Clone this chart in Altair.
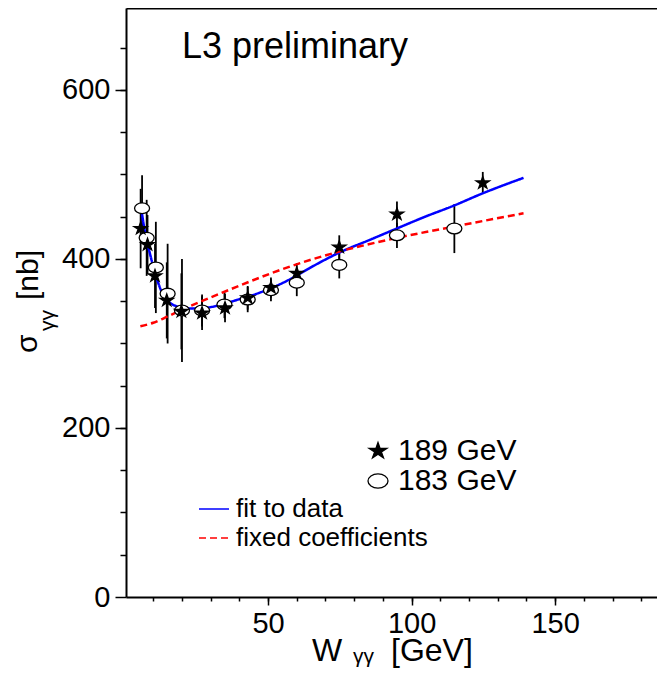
import altair as alt
import pandas as pd

FONT = "Liberation Sans"

# ---- data ----
# 189 GeV (filled stars)
W_189 = [5.6, 8.0, 10.6, 14.7, 19.8, 27.0, 35.0, 42.9, 51.0, 60.0, 74.8, 94.9, 124.8]
S_189 = [436, 417, 380, 351, 338, 336, 342, 354, 366, 383, 414, 453, 490]
E_189 = [47, 35, 38, 45, 45, 20, 17, 14, 12, 12, 14, 15, 13]
# 183 GeV (open circles)
W_183 = [6.1, 7.7, 10.9, 15.0, 20.0, 27.0, 34.8, 42.9, 51.0, 60.0, 74.8, 94.9, 114.9]
S_183 = [460, 425, 390, 359, 339, 339, 346, 352, 363, 372, 393, 428, 436]
E_183 = [39, 45, 54, 59, 61, 19, 16, 15, 13, 16, 16, 15, 29]

# fit to data (blue solid)
FIT_W = [6.0, 7.1, 8.3, 10.0, 11.8, 13.5, 15.9, 18.7, 22.8, 27.5, 33.3, 39.1, 44.9,
         50.7, 56.5, 62.3, 68.1, 75.1, 85.0, 94.8, 104.7, 114.6, 125.0, 139.0]
FIT_S = [455, 432, 414, 391, 371, 357, 348, 343.5, 341.5, 342, 345.5, 351.5, 357.5,
         365, 374, 385, 396, 408, 422, 436, 450, 463, 478, 496]
# fixed coefficients (red dashed)
FIX_W = [5.5, 10.0, 15.0, 20.0, 27.5, 39.0, 51.0, 62.0, 75.0, 95.0, 115.0, 139.0]
FIX_S = [320.5, 324.5, 332, 340, 351, 367, 383, 396, 409, 425, 438.5, 454]

SERIES = ["189 GeV", "183 GeV"]
CURVES = ["fit to data", "fixed coefficients"]

X_MAJOR = [50, 100, 150]
X_MINOR = list(range(10, 190, 10))
Y_MAJOR = [0, 200, 400, 600]
Y_MINOR = list(range(50, 700, 50))

# ---- tables ----
pts = pd.concat([
    pd.DataFrame({"W": W_183, "sigma": S_183, "err": E_183, "beam": SERIES[1]}),
    pd.DataFrame({"W": W_189, "sigma": S_189, "err": E_189, "beam": SERIES[0]}),
], ignore_index=True)
pts["lo"] = pts["sigma"] - pts["err"]
pts["hi"] = pts["sigma"] + pts["err"]

curves = pd.concat([
    pd.DataFrame({"W": FIT_W, "sigma": FIT_S, "curve": CURVES[0]}),
    pd.DataFrame({"W": FIX_W, "sigma": FIX_S, "curve": CURVES[1]}),
], ignore_index=True)

# ---- scales ----
xs = alt.Scale(domain=[0.5, 185.5], nice=False, zero=False)
ys = alt.Scale(domain=[0, 697], nice=False, zero=False)

STAR = ("M0,-0.85L0.21,-0.263L0.889,-0.263L0.34,0.1L0.55,0.688L0,0.325"
        "L-0.55,0.688L-0.34,0.1L-0.889,-0.263L-0.21,-0.263Z")
ELLIPSE = "M-1,0A1,0.72,0,1,1,1,0A1,0.72,0,1,1,-1,0Z"

ax_common = dict(grid=False, title=None, tickColor="black", tickWidth=1.5,
                 labelFont=FONT, labelColor="black", domainColor="black")

x_major = alt.Axis(orient="bottom", values=X_MAJOR, tickSize=8, labelFontSize=29,
                   labelPadding=4, domain=True, domainWidth=2, **ax_common)
x_minor = alt.Axis(orient="bottom", values=X_MINOR, tickSize=4, labels=False,
                   domain=False, **ax_common)
x_top = alt.Axis(orient="top", ticks=False, labels=False, domain=True,
                 domainWidth=2, **ax_common)
y_major = alt.Axis(orient="left", values=Y_MAJOR, tickSize=11, labelFontSize=29,
                   labelPadding=5, domain=True, domainWidth=2, **ax_common)
y_minor = alt.Axis(orient="left", values=Y_MINOR, tickSize=6, labels=False,
                   domain=False, **ax_common)

bars = alt.Chart(pts).mark_rule(color="black", strokeWidth=1.8).encode(
    x=alt.X("W:Q", scale=xs, axis=x_major),
    y=alt.Y("lo:Q", scale=ys, axis=y_major),
    y2="hi:Q",
)

line_legend = alt.Legend(title=None, orient="none", legendX=72, legendY=485,
                         symbolType="stroke", symbolSize=900, symbolStrokeWidth=1.3,
                         labelFont=FONT, labelFontSize=26, labelColor="black",
                         labelOffset=6, labelLimit=400, rowPadding=-4, padding=0)
lines = alt.Chart(curves).mark_line(strokeWidth=2.5, interpolate="monotone").encode(
    x=alt.X("W:Q", scale=xs, axis=x_minor),
    y=alt.Y("sigma:Q", scale=ys, axis=y_minor),
    color=alt.Color("curve:N", scale=alt.Scale(domain=CURVES, range=["#0000ff", "#ff0000"]),
                    legend=line_legend),
    strokeDash=alt.StrokeDash("curve:N", scale=alt.Scale(domain=CURVES, range=[[1, 0], [7, 4]]),
                              legend=line_legend),
)

pt_legend = alt.Legend(title=None, orient="none", legendX=237, legendY=428,
                       symbolSize=400, symbolStrokeWidth=1.3,
                       labelFont=FONT, labelFontSize=30, labelColor="black",
                       labelOffset=5, labelLimit=400, rowPadding=0, padding=0)
points = alt.Chart(pts).mark_point(size=225, strokeWidth=1.3,
                                   opacity=1, fillOpacity=1).encode(
    x=alt.X("W:Q", scale=xs, axis=x_top),
    y=alt.Y("sigma:Q", scale=ys, axis=None),
    shape=alt.Shape("beam:N", scale=alt.Scale(domain=SERIES, range=[STAR, ELLIPSE]),
                    legend=pt_legend),
    fill=alt.Fill("beam:N", scale=alt.Scale(domain=SERIES, range=["black", "white"]),
                  legend=pt_legend),
    stroke=alt.Stroke("beam:N", scale=alt.Scale(domain=SERIES, range=["black", "black"]),
                      legend=pt_legend),
)


def label(txt, x, y, size, angle=0):
    return alt.Chart(pd.DataFrame({"t": [txt]})).mark_text(
        align="left", baseline="alphabetic", font=FONT, fontSize=size,
        color="black", angle=angle,
    ).encode(x=alt.value(x), y=alt.value(y), text="t:N")


texts = [
    label("L3 preliminary", 56, 50, 36),
    label("W", 186, 653, 32),
    label("γγ", 227, 655, 21),
    label("[GeV]", 265, 653, 32),
    label("σ", -89, 345, 30, angle=270),
    label("γγ", -72, 323, 21, angle=270),
    label("[nb]", -88, 292, 30, angle=270),
]

chart = alt.layer(bars, lines, points, *texts).resolve_axis(
    x="independent", y="independent"
).properties(
    width=531, height=589,
    autosize=alt.AutoSizeParams(type="none"),
    padding={"left": 118, "top": 0, "right": 0, "bottom": 73},
).configure_view(strokeWidth=0)

chart.save("out.html", embed_options={"renderer": "svg", "actions": False})
